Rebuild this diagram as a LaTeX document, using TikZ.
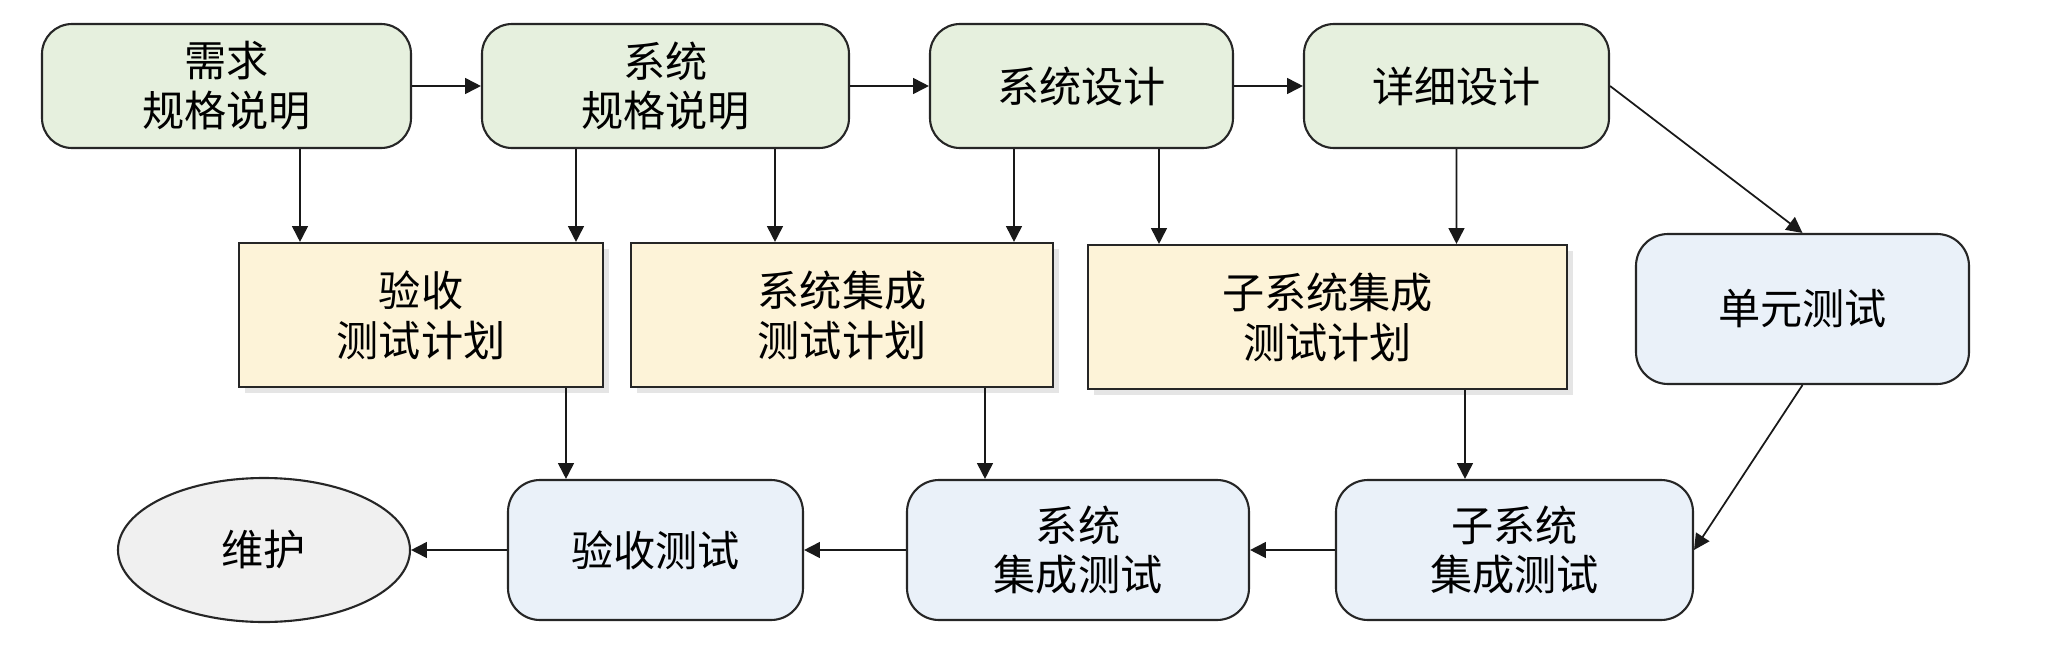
\documentclass[tikz,border=0pt]{standalone}
\usepackage{fontspec}
\setmainfont{Noto Sans CJK SC}
\usetikzlibrary{arrows.meta,shapes.geometric,shadows}
\definecolor{specgreen}{RGB}{230,240,222}
\definecolor{planyellow}{RGB}{253,243,216}
\definecolor{testblue}{RGB}{234,241,249}
\definecolor{maintgray}{RGB}{240,240,240}
\begin{document}
\begin{tikzpicture}[
    every node/.style={font=\fontsize{12}{14.2}\selectfont, align=center, inner sep=0pt},
    spec/.style={draw=black!85, line width=0.6pt, fill=specgreen, rounded corners=0.3cm, minimum height=1.24cm},
    plan/.style={draw=black!85, line width=0.6pt, fill=planyellow, minimum height=1.44cm,
        drop shadow={shadow xshift=0.06cm, shadow yshift=-0.06cm, fill=black!10, opacity=1}},
    testbox/.style={draw=black!85, line width=0.6pt, fill=testblue, rounded corners=0.32cm, minimum height=1.4cm},
    arr/.style={-{Triangle[length=4.5pt,width=4.5pt]}, line width=0.5pt, black!90}
    ]
    \useasboundingbox (0,0) rectangle (20.48,6.6);
    \node[spec, minimum width=3.69cm] (req) at (2.265,5.74) {需求\\规格说明};
    \node[spec, minimum width=3.67cm] (sysspec) at (6.655,5.74) {系统\\规格说明};
    \node[spec, minimum width=3.03cm] (sysdes) at (10.815,5.74) {系统设计};
    \node[spec, minimum width=3.05cm] (detail) at (14.565,5.74) {详细设计};
    \node[plan, minimum width=3.64cm] (accplan) at (4.21,3.45) {验收\\测试计划};
    \node[plan, minimum width=4.22cm] (sysplan) at (8.42,3.45) {系统集成\\测试计划};
    \node[plan, minimum width=4.79cm] (subplan) at (13.275,3.43) {子系统集成\\测试计划};
    \node[testbox, minimum width=3.33cm, minimum height=1.5cm] (unit) at (18.025,3.51) {单元测试};
    \node[draw=black!85, line width=0.6pt, fill=maintgray, ellipse, minimum width=2.92cm, minimum height=1.44cm] (maint) at (2.64,1.1) {维护};
    \node[testbox, minimum width=2.95cm] (acctest) at (6.555,1.1) {验收测试};
    \node[testbox, minimum width=3.42cm] (systest) at (10.78,1.1) {系统\\集成测试};
    \node[testbox, minimum width=3.57cm] (subtest) at (15.145,1.1) {子系统\\集成测试};
    \draw[arr] (req.east) -- (sysspec.west);
    \draw[arr] (sysspec.east) -- (sysdes.west);
    \draw[arr] (sysdes.east) -- (detail.west);
    \draw[arr] (detail.east) -- (unit.north);
    \draw[arr] ([xshift=0.735cm]req.south) -- ([xshift=-1.21cm]accplan.north);
    \draw[arr] ([xshift=-0.895cm]sysspec.south) -- ([xshift=1.55cm]accplan.north);
    \draw[arr] ([xshift=1.095cm]sysspec.south) -- ([xshift=-0.67cm]sysplan.north);
    \draw[arr] ([xshift=-0.675cm]sysdes.south) -- ([xshift=1.72cm]sysplan.north);
    \draw[arr] ([xshift=0.775cm]sysdes.south) -- ([xshift=-1.685cm]subplan.north);
    \draw[arr] (detail.south) -- ([xshift=1.29cm]subplan.north);
    \draw[arr] ([xshift=1.45cm]accplan.south) -- ([xshift=-0.895cm]acctest.north);
    \draw[arr] ([xshift=1.43cm]sysplan.south) -- ([xshift=-0.93cm]systest.north);
    \draw[arr] ([xshift=1.375cm]subplan.south) -- ([xshift=-0.495cm]subtest.north);
    \draw[arr] (unit.south) -- (subtest.east);
    \draw[arr] (subtest.west) -- (systest.east);
    \draw[arr] (systest.west) -- (acctest.east);
    \draw[arr] (acctest.west) -- (maint.east);
\end{tikzpicture}
\end{document}
